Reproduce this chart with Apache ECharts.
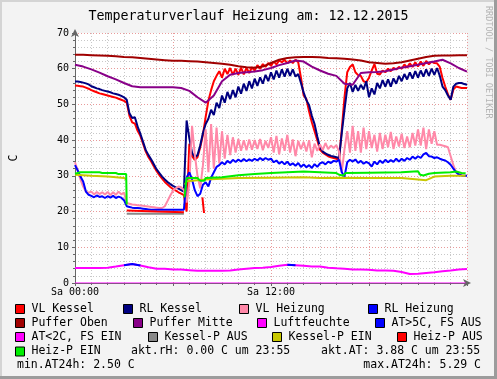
<!DOCTYPE html>
<html><head><meta charset="utf-8">
<script src="https://cdn.jsdelivr.net/npm/echarts@6/dist/echarts.min.js"></script>
<style>html,body{margin:0;padding:0;background:#f3f3f3;}#c{width:497px;height:379px;}</style>
</head><body><div id="c"></div>
<script>
const FONT = 'DejaVu Sans Mono';
const chartTitle = 'Temperaturverlauf Heizung am: 12.12.2015';
const yAxisName = 'C';
const xTickLabels = [[0, 'Sa 00:00'], [720, 'Sa 12:00']];
const fineStep = 10;   // minutes between samples (fine series)
const coarseStep = 30; // minutes between samples (smooth series)

const vlKessel = [
 55.3,55.2,55.1,55.0,54.7,54.4, 54.0,53.7,53.4,53.1,52.9,52.7, 52.5,52.3,52.1,51.9,51.6,51.3,
 51.0,50.5,46.8,45.0,44.6,42.6, 41.2,39.0,36.8,35.2,34.0,32.6, 31.3,30.2,29.2,28.3,27.6,26.9,
 26.3,25.9,25.4,25.0,24.6,20.0, 39.0,35.5,34.5,35.2,38.0,41.5, 46.5,51.0,54.0,56.5,58.0,59.3,
 57.5,60.0,58.5,60.2,58.3,60.0, 58.3,60.3,58.4,60.2,58.8,60.4, 59.5,61.0,60.0,61.3,60.5,61.6,
 60.8,62.0,61.2,62.3,61.8,62.5, 61.5,62.3,61.6,62.5,61.8,57.5, 52.5,51.5,48.0,45.0,42.5,40.0,
 37.3,36.5,36.0,35.5,35.2,35.0, 34.8,34.5,43.0,52.0,59.0,60.5, 61.2,59.0,58.2,58.0,56.5,56.2,
 57.5,59.5,61.3,58.6,58.4,59.5, 59.0,60.0,59.3,60.2,59.8,60.5, 60.0,61.2,60.3,61.5,60.5,61.8,
 60.6,62.0,60.8,62.2,61.2,62.0, 61.6,61.5,60.5,57.4,55.0,52.8, 51.3,54.2,55.0,54.8,54.6,54.6,
 54.6];
const rlKessel = [
 56.4,56.4,56.3,56.1,55.9,55.6, 55.1,54.8,54.5,54.3,54.0,53.8, 53.6,53.4,53.1,52.9,52.7,52.4,
 52.0,51.3,47.5,46.2,46.4,43.8, 41.8,39.5,37.2,35.8,34.6,33.2, 31.8,30.8,29.8,29.0,28.3,27.7,
 27.2,26.8,26.4,26.0,25.6,45.5, 40.5,36.5,35.2,35.8,38.5,42.0, 44.5,46.0,48.5,47.0,50.5,49.0,
 52.5,50.5,53.5,51.5,54.0,52.0, 55.0,53.0,55.8,53.8,56.5,54.5, 57.2,55.2,57.6,55.8,58.3,56.5,
 59.0,57.0,59.5,57.5,59.8,57.8, 60.0,58.0,59.8,57.8,58.5,56.0, 53.3,51.2,49.8,46.8,44.5,41.0,
 38.0,36.8,36.3,35.9,35.6,35.4, 35.2,35.0,42.0,48.5,54.5,56.0, 53.5,55.5,53.8,55.5,54.2,56.5,
 52.0,54.5,52.8,56.0,54.5,56.8, 55.0,57.0,55.0,57.3,55.8,58.0, 56.5,58.5,57.0,59.0,57.2,59.3,
 57.5,59.5,57.8,59.8,58.0,60.0, 58.3,60.2,58.0,55.0,54.0,52.5, 51.3,55.0,55.8,56.0,56.0,55.7,
 55.5];
const vlHeizung = [
 33.8,31.5,29.0,27.0,25.6,25.3, 25.6,24.8,25.5,24.9,25.4,24.8, 25.5,24.6,25.4,24.7,25.6,24.8,
 25.3,22.4,22.2,22.0,21.9,21.8, 21.7,21.6,21.5,21.4,21.3,21.2, 21.1,21.0,21.0,21.5,23.0,24.5,
 25.8,26.5,27.0,26.8,26.0,22.5, 28.0,44.0,36.0,30.0,26.5,33.0, 43.0,31.0,44.5,32.0,43.5,33.5,
 42.5,34.8,41.5,35.8,40.8,36.5, 40.3,37.0,40.0,37.2,40.2,37.3, 40.0,37.5,40.3,37.2,39.8,37.8,
 40.8,36.5,41.2,36.0,40.5,37.0, 41.5,36.5,40.2,35.5,39.8,37.5, 39.5,36.8,40.0,35.2,39.0,37.0,
 38.8,37.2,39.2,37.5,38.5,37.8, 38.6,36.8,31.0,37.5,42.5,36.5, 44.0,37.0,42.5,36.5,43.5,37.5,
 42.5,37.8,41.5,36.8,42.0,37.5, 41.5,38.0,42.3,37.5,41.0,38.2, 41.8,37.8,41.0,38.0,42.0,38.5,
 43.0,38.5,43.5,37.5,43.0,39.0, 42.5,38.7,38.7,38.5,38.3,38.0, 35.5,33.0,31.0,30.5,30.2,30.0,
 30.0];
const rlHeizung = [
 33.0,31.5,29.8,28.4,25.6,24.7, 24.4,24.0,24.5,24.1,24.3,23.8, 24.3,23.9,24.4,23.8,24.2,23.9,
 23.2,21.5,21.3,21.1,21.0,21.0, 20.9,20.8,20.7,20.6,20.5,20.5, 20.5,20.5,20.5,20.5,20.5,20.5,
 20.5,20.5,20.5,20.5,20.5,29.5, 31.0,29.0,26.0,24.3,25.0,27.5, 28.2,27.0,29.5,31.0,32.5,33.0,
 33.8,33.2,34.2,33.6,34.5,33.9, 34.6,34.0,34.7,34.1,34.6,34.2, 34.8,34.3,35.0,34.4,35.0,34.5,
 34.8,33.8,34.3,33.4,34.0,33.2, 34.0,33.0,33.5,32.8,33.6,32.5, 33.2,32.4,33.0,32.2,33.3,32.5,
 33.5,33.8,33.2,34.0,33.6,34.2, 34.0,34.5,31.0,29.8,33.8,34.5, 34.0,34.6,33.6,34.2,33.4,33.9,
 33.5,32.6,34.0,33.2,34.3,33.6, 34.5,33.8,34.4,33.9,34.8,34.0, 34.8,34.2,35.0,34.5,35.4,34.8,
 35.5,35.0,36.0,36.4,35.5,35.4, 35.0,35.2,34.8,34.5,34.3,33.8, 33.1,32.0,31.0,30.4,30.1,30.0,
 30.0];
const pufferOben = [63.9,63.9,63.8,63.7,63.6,63.5,63.3,63.2,63.0,62.8,62.6,62.4,62.2,62.2,62.1,62.0,
 61.8,61.6,61.4,61.1,60.7,60.4,60.3,60.6,61.6,62.5,63.0,63.2,63.3,63.3,63.2,63.0,62.9,62.8,62.6,62.3,
 61.8,61.6,61.4,61.5,61.8,62.3,62.8,63.3,63.6,63.7,63.7,63.8,63.8];
const pufferMitte = [61.1,60.6,59.8,58.9,57.9,57.0,56.0,55.1,54.8,54.8,54.8,54.8,54.8,54.6,53.8,52.0,
 50.5,52.5,56.5,58.3,58.8,59.0,59.2,59.6,60.2,61.0,61.6,62.3,62.0,60.6,59.5,58.6,58.0,55.8,55.5,58.8,
 59.0,59.1,59.3,59.8,60.3,60.7,61.1,61.6,62.0,62.5,61.5,60.2,59.2];
const aussenTemp = [4.2,4.2,4.2,4.2,4.3,4.6,5.0,5.3,4.9,4.4,4.0,4.0,3.8,3.8,3.6,3.4,3.4,3.4,3.4,3.5,
 3.8,4.0,4.2,4.3,4.5,4.8,5.1,5.0,4.8,4.6,4.6,4.3,4.1,4.0,3.8,3.8,3.7,3.5,3.5,3.4,3.1,2.5,2.6,2.8,3.0,
 3.3,3.5,3.8,3.9];
const aussenTempHigh = [null,null,null,null,null,null,5.0,5.3,4.9,null,null,null,null,null,null,null,
 null,null,null,null,null,null,null,null,null,null,5.1,5.0,null,null,null,null,null,null,null,null,
 null,null,null,null,null,null,null,null,null,null,null,null,null];
const luftTimes = [0, 1435];
const luftfeuchte = [0, 0];
const heizPEinTimes = [0,20,90,100,150,160,188,190,191,402,410,450,460,475,480,540,600,660,720,780,840,900,960,970,985,995,1080,1200,1260,1268,1280,1300,1320,1380,1400,1420,1435];
const heizPEin = [30.6,31.0,31.0,30.8,30.8,30.5,30.5,22.0,null,24.0,29.4,29.4,28.6,28.6,29.4,29.6,30.2,30.5,30.8,31.0,31.2,31.0,30.8,30.3,30.1,30.8,30.9,31.0,31.3,30.3,30.1,30.6,30.8,31.0,31.2,30.8,30.7];
const heizPAusTimes = [190, 300, 400, 401, 468, 474];
const heizPAus = [20.3, 20.0, 19.8, null, 24.0, 19.6];
const kesselPEinTimes = [0,30,60,120,180,188,189,404,410,450,480,540,600,720,840,900,960,1080,1200,1260,1290,1320,1380,1435];
const kesselPEin = [30.3,30.2,30.0,29.8,29.4,29.0,null,27.5,28.5,28.8,29.0,29.2,29.4,29.5,29.6,29.4,29.5,29.4,29.4,29.0,28.8,29.8,30.0,30.0];
const kesselPAusTimes = [190, 400];
const kesselPAus = [19.4, 19.4];
const aktRH = 'akt.rH: 0.00 C um 23:55';
const aktAT = 'akt.AT: 3.88 C um 23:55';
const minAT = 'min.AT24h: 2.50 C';
const maxAT = 'max.AT24h: 5.29 C';
const credit = 'RRDTOOL / TOBI OETIKER';

const fineTimes = vlKessel.map((_, i) => i * fineStep);
const coarseTimes = pufferOben.map((_, i) => i * coarseStep);
const pairs = (t, v) => v.map((y, i) => [t[i], y]);
const tickMap = {}; xTickLabels.forEach(([v, s]) => tickMap[v] = s);

const mk = (name, times, vals, color, z) => ({
  name, type: 'line', data: pairs(times, vals), symbol: 'none', showSymbol: false,
  connectNulls: false, animation: false, z: z || 2,
  lineStyle: { width: 2, color }, itemStyle: { color }, emphasis: { disabled: true }
});

const series = [
  mk('VL Kessel', fineTimes, vlKessel, '#ff0000'),
  mk('RL Kessel', fineTimes, rlKessel, '#000080'),
  mk('VL Heizung', fineTimes, vlHeizung, '#ff88a8'),
  mk('RL Heizung', fineTimes, rlHeizung, '#0000ff'),
  mk('Puffer Oben', coarseTimes, pufferOben, '#a00000'),
  mk('Puffer Mitte', coarseTimes, pufferMitte, '#880088'),
  mk('Luftfeuchte', luftTimes, luftfeuchte, '#ff00ff'),
  mk('AT<2C, FS EIN', coarseTimes, aussenTemp, '#ff00ff'),
  mk('AT>5C, FS AUS', coarseTimes, aussenTempHigh, '#0000ff'),
  mk('Kessel-P AUS', kesselPAusTimes, kesselPAus, '#888888'),
  mk('Kessel-P EIN', kesselPEinTimes, kesselPEin, '#c8c800'),
  mk('Heiz-P AUS', heizPAusTimes, heizPAus, '#ff0000'),
  mk('Heiz-P EIN', heizPEinTimes, heizPEin, '#00ee00')
];
series[6].lineStyle.width = 1;

const legendPos = [
  ['VL Kessel', 15, 309], ['RL Kessel', 123, 309], ['VL Heizung', 239, 309], ['RL Heizung', 368, 309],
  ['Puffer Oben', 15, 323], ['Puffer Mitte', 133, 323], ['Luftfeuchte', 257, 323], ['AT>5C, FS AUS', 375, 323],
  ['AT<2C, FS EIN', 15, 337], ['Kessel-P AUS', 148, 337], ['Kessel-P EIN', 272, 337], ['Heiz-P AUS', 397, 337],
  ['Heiz-P EIN', 15, 351.5]
];
const legends = legendPos.map(([n, x, cy]) => ({
  data: [n], left: x, top: cy - 6, padding: 0, icon: 'rect', itemWidth: 9, itemHeight: 9,
  selectedMode: false, itemStyle: { borderColor: '#000', borderWidth: 1 },
  textStyle: { fontFamily: FONT, fontSize: 11.5, color: '#000', lineHeight: 12, padding: [0, 0, 0, 2] }
}));

const txt = (text, x, y, align) => ({
  type: 'text', x, y, silent: true,
  style: { text, fill: '#000', font: '11.5px "' + FONT + '"', align: align || 'left', verticalAlign: 'middle' }
});

const chart = echarts.init(document.getElementById('c'), null, { renderer: 'canvas' });
chart.setOption({
  backgroundColor: '#f3f3f3',
  animation: false,
  title: { text: chartTitle, left: 'center', top: 5,
    textStyle: { fontFamily: FONT, fontSize: 13.3, fontWeight: 'normal', color: '#000' } },
  grid: { left: 67, right: 30, top: 33, bottom: 96, show: true, backgroundColor: '#fff', borderWidth: 0 },
  xAxis: {
    type: 'value', min: 0, max: 1440, interval: 360,
    axisLine: { show: true, lineStyle: { color: '#666', width: 1 }, symbol: ['none', 'arrow'], symbolSize: [6, 8], symbolOffset: [0, 4] },
    axisTick: { show: true, length: 3, inside: false, lineStyle: { color: '#666' } },
    minorTick: { show: true, splitNumber: 6, length: 2, lineStyle: { color: '#666' } },
    axisLabel: { formatter: v => tickMap[v] || '', fontFamily: FONT, fontSize: 10, color: '#000', margin: 4, showMaxLabel: false },
    splitLine: { show: true, lineStyle: { color: '#e89a9a', type: [1, 2], width: 1 } },
    minorSplitLine: { show: true, lineStyle: { color: '#c8c8c8', type: [1, 2], width: 1 } }
  },
  yAxis: {
    type: 'value', min: 0, max: 70, interval: 10,
    name: yAxisName, nameLocation: 'middle', nameGap: 55, nameRotate: 90,
    nameTextStyle: { fontFamily: FONT, fontSize: 11.5, color: '#000' },
    axisLine: { show: true, lineStyle: { color: '#666', width: 1 }, symbol: ['none', 'arrow'], symbolSize: [6, 8], symbolOffset: [0, 4] },
    axisTick: { show: true, length: 3, lineStyle: { color: '#666' } },
    minorTick: { show: true, splitNumber: 5, length: 2, lineStyle: { color: '#666' } },
    axisLabel: { fontFamily: FONT, fontSize: 10, color: '#000', margin: 6 },
    splitLine: { show: true, lineStyle: { color: '#e89a9a', type: [1, 2], width: 1 } },
    minorSplitLine: { show: true, lineStyle: { color: '#c8c8c8', type: [1, 2], width: 1 } }
  },
  legend: legends,
  tooltip: { show: false },
  series,
  graphic: [
    { type: 'rect', shape: { x: 0, y: 0, width: 497, height: 2 }, style: { fill: '#d4d4d4' }, silent: true },
    { type: 'rect', shape: { x: 0, y: 0, width: 2, height: 379 }, style: { fill: '#d4d4d4' }, silent: true },
    { type: 'rect', shape: { x: 494, y: 0, width: 3, height: 379 }, style: { fill: '#9c9c9c' }, silent: true },
    { type: 'rect', shape: { x: 0, y: 376, width: 497, height: 3 }, style: { fill: '#9c9c9c' }, silent: true },
    { type: 'text', x: 488, y: 6, rotation: -Math.PI / 2, silent: true,
      style: { text: credit, fill: '#b4b4b4', font: '8.5px "' + FONT + '"', align: 'left', verticalAlign: 'middle' } },
    txt(aktRH, 131, 351.5),
    txt(aktAT, 321, 351.5),
    txt(minAT, 17, 365),
    txt(maxAT, 481, 365, 'right')
  ]
});
</script></body></html>
